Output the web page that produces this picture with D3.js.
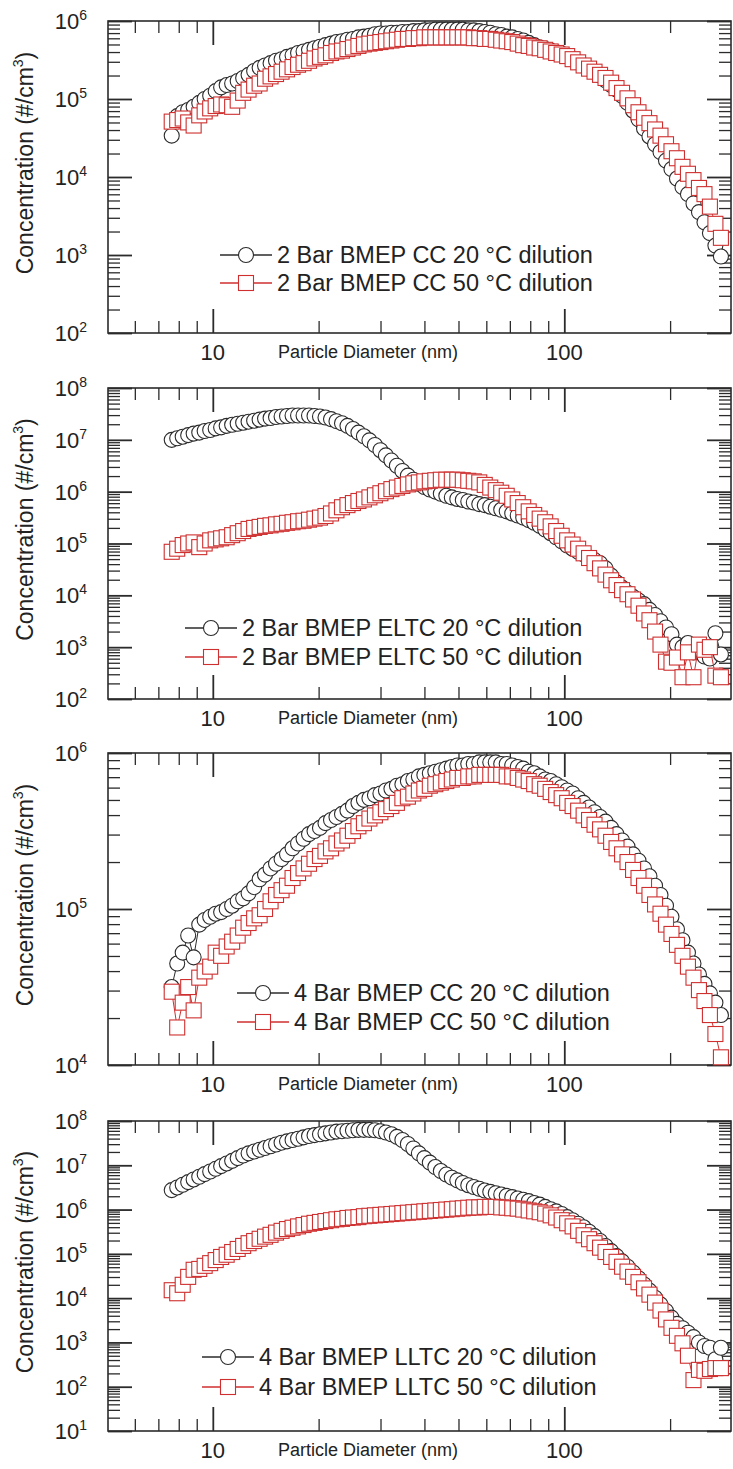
<!DOCTYPE html>
<html>
<head>
<meta charset="utf-8">
<script src="https://cdnjs.cloudflare.com/ajax/libs/d3/7.8.5/d3.min.js"></script>
<style>
body{margin:0;background:#fff;}
svg text{font-family:Arial,"Liberation Sans",sans-serif;fill:#222;}
</style>
</head>
<body>
<script>
var WIDTH = 733, HEIGHT = 1469;

// particle diameter (nm), SMPS channels
var diameters = [7.64,7.92,8.21,8.51,8.82,9.15,9.48,9.83,10.19,10.56,
10.95,11.35,11.77,12.20,12.64,13.11,13.59,14.08,14.60,15.13,
15.69,16.26,16.86,17.48,18.12,18.78,19.47,20.18,20.92,21.69,
22.48,23.31,24.16,25.04,25.96,26.91,27.90,28.92,29.98,31.08,
32.22,33.40,34.62,35.89,37.20,38.57,39.98,41.44,42.96,44.54,
46.17,47.86,49.61,51.43,53.31,55.27,57.29,59.39,61.57,63.82,
66.16,68.58,71.10,73.70,76.40,79.20,82.10,85.11,88.23,91.46,
94.81,98.29,101.9,105.6,109.5,113.5,117.6,121.9,126.4,131.0,
135.9,140.8,146.0,151.3,156.9,162.6,168.6,174.7,181.2,187.8,
194.7,201.8,209.2,216.9,224.8,233.1,241.6,250.5,259.6,269.1,
279.0];

// concentration (#/cm3)
var cc2bar20 = [3.39e4,6.03e4,6.76e4,7.24e4,7.94e4,8.91e4,1.00e5,1.10e5,1.26e5,1.41e5,
1.51e5,1.58e5,1.70e5,1.86e5,2.04e5,2.29e5,2.51e5,2.69e5,2.88e5,3.09e5,
3.24e5,3.47e5,3.63e5,3.89e5,4.07e5,4.27e5,4.47e5,4.68e5,4.90e5,5.13e5,
5.37e5,5.50e5,5.75e5,5.89e5,6.17e5,6.31e5,6.46e5,6.76e5,6.92e5,6.92e5,
7.08e5,7.08e5,7.24e5,7.24e5,7.41e5,7.41e5,7.59e5,7.59e5,7.76e5,7.76e5,
7.76e5,7.76e5,7.76e5,7.76e5,7.59e5,7.59e5,7.41e5,7.24e5,7.08e5,6.76e5,
6.61e5,6.31e5,6.17e5,5.89e5,5.62e5,5.25e5,4.90e5,4.57e5,4.37e5,4.17e5,
3.98e5,3.80e5,3.55e5,3.24e5,2.95e5,2.69e5,2.45e5,2.24e5,2.00e5,1.74e5,
1.51e5,1.32e5,1.10e5,8.91e4,7.08e4,5.50e4,4.17e4,3.31e4,2.63e4,2.09e4,
1.62e4,1.26e4,9.55e3,7.41e3,6.03e3,4.57e3,3.55e3,2.63e3,1.91e3,1.32e3,
9.55e2];
var cc2bar50 = [5.13e4,5.37e4,5.62e4,5.01e4,4.57e4,6.17e4,6.92e4,7.59e4,8.13e4,8.51e4,
8.32e4,7.94e4,9.55e4,1.20e5,1.32e5,1.48e5,1.58e5,1.82e5,1.95e5,2.09e5,
2.24e5,2.40e5,2.57e5,2.75e5,2.88e5,3.09e5,3.31e5,3.47e5,3.63e5,3.89e5,
4.07e5,4.17e5,4.37e5,4.57e5,4.79e5,5.01e5,5.13e5,5.25e5,5.37e5,5.50e5,
5.62e5,5.75e5,5.89e5,5.89e5,6.03e5,6.03e5,6.17e5,6.17e5,6.17e5,6.17e5,
6.17e5,6.17e5,6.17e5,6.17e5,6.17e5,6.03e5,6.03e5,5.89e5,5.89e5,5.75e5,
5.62e5,5.50e5,5.37e5,5.13e5,4.90e5,4.79e5,4.57e5,4.47e5,4.27e5,4.07e5,
3.89e5,3.72e5,3.55e5,3.24e5,2.95e5,2.69e5,2.45e5,2.24e5,2.04e5,1.86e5,
1.62e5,1.38e5,1.20e5,1.02e5,8.32e4,6.76e4,5.75e4,4.90e4,4.07e4,3.39e4,
2.63e4,2.14e4,1.74e4,1.35e4,1.10e4,9.12e3,7.24e3,6.03e3,4.17e3,2.51e3,
1.66e3];
var eltc2bar20 = [1.00e7,1.07e7,1.15e7,1.23e7,1.32e7,1.38e7,1.48e7,1.55e7,1.66e7,1.74e7,
1.86e7,1.95e7,2.04e7,2.14e7,2.24e7,2.34e7,2.45e7,2.57e7,2.63e7,2.75e7,
2.82e7,2.88e7,2.95e7,2.95e7,2.95e7,2.95e7,2.88e7,2.82e7,2.69e7,2.51e7,
2.29e7,2.09e7,1.86e7,1.62e7,1.38e7,1.17e7,9.77e6,7.94e6,6.31e6,5.01e6,
3.98e6,3.16e6,2.51e6,2.04e6,1.70e6,1.41e6,1.23e6,1.10e6,1.00e6,9.12e5,
8.32e5,7.76e5,7.24e5,6.92e5,6.46e5,6.17e5,5.75e5,5.50e5,5.13e5,4.79e5,
4.47e5,4.17e5,3.80e5,3.47e5,3.16e5,2.82e5,2.51e5,2.19e5,1.86e5,1.58e5,
1.32e5,1.10e5,9.12e4,7.94e4,6.92e4,6.17e4,5.37e4,4.79e4,4.17e4,3.31e4,
2.40e4,1.78e4,1.41e4,1.12e4,9.33e3,7.94e3,6.76e3,5.25e3,4.17e3,3.16e3,
2.40e3,1.78e3,1.12e3,1.00e3,1.20e3,7.94e2,8.91e2,6.61e2,6.03e2,1.86e3,
7.24e2];
var eltc2bar50 = [6.92e4,7.94e4,9.33e4,1.00e5,1.05e5,8.51e4,1.00e5,1.15e5,1.20e5,1.26e5,
1.32e5,1.45e5,1.58e5,1.74e5,1.91e5,2.00e5,2.09e5,2.19e5,2.24e5,2.34e5,
2.40e5,2.51e5,2.57e5,2.69e5,2.75e5,2.88e5,3.02e5,3.16e5,3.39e5,3.80e5,
4.37e5,5.01e5,5.50e5,6.03e5,6.61e5,7.08e5,7.76e5,8.51e5,9.33e5,1.02e6,
1.12e6,1.20e6,1.29e6,1.38e6,1.45e6,1.51e6,1.58e6,1.62e6,1.66e6,1.70e6,
1.70e6,1.70e6,1.70e6,1.66e6,1.62e6,1.58e6,1.51e6,1.35e6,1.20e6,1.07e6,
9.55e5,8.32e5,7.08e5,6.03e5,5.01e5,4.17e5,3.55e5,3.02e5,2.57e5,2.14e5,
1.74e5,1.41e5,1.15e5,9.55e4,7.94e4,6.46e4,5.25e4,4.17e4,3.31e4,2.51e4,
1.95e4,1.58e4,1.26e4,1.05e4,8.32e3,6.31e3,4.47e3,3.31e3,2.00e3,1.12e3,
5.25e2,5.01e2,6.31e2,2.63e2,7.94e2,2.63e2,1.12e3,8.91e2,1.00e3,2.82e2,
2.63e2];
var cc4bar20 = [3.16e4,4.47e4,5.25e4,6.76e4,4.90e4,7.94e4,8.51e4,8.91e4,9.33e4,9.55e4,
1.00e5,1.05e5,1.12e5,1.17e5,1.26e5,1.38e5,1.55e5,1.66e5,1.82e5,1.95e5,
2.09e5,2.24e5,2.45e5,2.63e5,2.82e5,3.02e5,3.16e5,3.31e5,3.55e5,3.72e5,
3.89e5,4.07e5,4.27e5,4.57e5,4.79e5,5.01e5,5.13e5,5.37e5,5.50e5,5.75e5,
5.89e5,6.17e5,6.31e5,6.61e5,6.76e5,7.08e5,7.24e5,7.41e5,7.59e5,7.76e5,
7.94e5,8.13e5,8.32e5,8.32e5,8.51e5,8.51e5,8.71e5,8.71e5,8.71e5,8.71e5,
8.51e5,8.51e5,8.32e5,8.13e5,7.94e5,7.59e5,7.41e5,7.08e5,6.76e5,6.61e5,
6.31e5,6.03e5,5.75e5,5.50e5,5.13e5,4.79e5,4.47e5,4.17e5,3.89e5,3.63e5,
3.31e5,3.02e5,2.75e5,2.51e5,2.24e5,2.04e5,1.82e5,1.62e5,1.41e5,1.23e5,
1.05e5,8.91e4,7.41e4,6.31e4,5.25e4,4.47e4,3.80e4,3.31e4,2.88e4,2.51e4,
2.09e4];
var cc4bar50 = [2.95e4,1.74e4,2.51e4,3.16e4,2.24e4,3.63e4,3.98e4,4.27e4,5.25e4,5.01e4,
5.75e4,6.17e4,6.76e4,7.59e4,8.13e4,8.71e4,9.12e4,1.00e5,1.12e5,1.23e5,
1.32e5,1.41e5,1.58e5,1.70e5,1.82e5,1.95e5,2.09e5,2.19e5,2.34e5,2.45e5,
2.63e5,2.75e5,2.95e5,3.16e5,3.39e5,3.55e5,3.80e5,3.98e5,4.17e5,4.37e5,
4.57e5,4.79e5,5.13e5,5.25e5,5.50e5,5.75e5,5.89e5,6.17e5,6.31e5,6.46e5,
6.61e5,6.76e5,6.92e5,6.92e5,7.08e5,7.08e5,7.24e5,7.24e5,7.24e5,7.24e5,
7.24e5,7.08e5,7.08e5,6.92e5,6.76e5,6.61e5,6.31e5,6.17e5,5.89e5,5.62e5,
5.37e5,5.13e5,4.79e5,4.57e5,4.27e5,3.98e5,3.72e5,3.47e5,3.24e5,2.95e5,
2.69e5,2.45e5,2.24e5,2.00e5,1.78e5,1.58e5,1.41e5,1.23e5,1.07e5,9.33e4,
7.94e4,6.92e4,5.89e4,5.01e4,4.27e4,3.63e4,3.02e4,2.57e4,2.09e4,1.58e4,
1.12e4];
var lltc4bar20 = [2.75e6,3.16e6,3.63e6,4.17e6,4.79e6,5.50e6,6.31e6,7.24e6,8.32e6,9.55e6,
1.10e7,1.26e7,1.45e7,1.66e7,1.86e7,2.04e7,2.24e7,2.45e7,2.69e7,2.95e7,
3.24e7,3.47e7,3.72e7,3.98e7,4.27e7,4.57e7,4.79e7,5.01e7,5.25e7,5.50e7,
5.75e7,5.89e7,6.03e7,6.17e7,6.31e7,6.31e7,6.31e7,6.17e7,5.89e7,5.50e7,
5.01e7,4.37e7,3.72e7,3.02e7,2.40e7,1.86e7,1.45e7,1.15e7,9.12e6,7.41e6,
6.17e6,5.25e6,4.57e6,3.98e6,3.55e6,3.24e6,2.95e6,2.69e6,2.51e6,2.34e6,
2.19e6,2.04e6,1.91e6,1.78e6,1.66e6,1.55e6,1.41e6,1.29e6,1.15e6,1.02e6,
9.12e5,7.94e5,6.76e5,5.75e5,4.79e5,3.98e5,3.16e5,2.51e5,1.95e5,1.51e5,
1.15e5,8.91e4,6.76e4,5.13e4,3.80e4,2.82e4,2.04e4,1.48e4,1.02e4,7.24e3,
5.13e3,3.63e3,2.63e3,2.09e3,1.66e3,1.32e3,1.00e3,8.32e2,7.59e2,4.17e2,
7.59e2];
var lltc4bar50 = [1.51e4,1.29e4,2.00e4,3.02e4,4.37e4,4.57e4,5.37e4,6.17e4,7.24e4,8.51e4,
9.55e4,1.10e5,1.29e5,1.51e5,1.74e5,1.95e5,2.19e5,2.45e5,2.69e5,3.02e5,
3.31e5,3.63e5,3.89e5,4.17e5,4.47e5,4.79e5,5.01e5,5.25e5,5.50e5,5.75e5,
6.03e5,6.17e5,6.46e5,6.61e5,6.76e5,7.08e5,7.24e5,7.41e5,7.59e5,7.76e5,
7.94e5,8.13e5,8.32e5,8.51e5,8.71e5,8.91e5,9.12e5,9.33e5,9.55e5,9.77e5,
1.00e6,1.02e6,1.05e6,1.07e6,1.10e6,1.12e6,1.12e6,1.15e6,1.15e6,1.15e6,
1.12e6,1.10e6,1.07e6,1.05e6,1.00e6,9.55e5,9.12e5,8.71e5,8.13e5,7.41e5,
6.61e5,5.75e5,4.90e5,4.17e5,3.31e5,2.63e5,2.14e5,1.74e5,1.38e5,1.10e5,
8.51e4,6.61e4,5.13e4,3.98e4,3.02e4,2.29e4,1.66e4,1.20e4,7.94e3,5.25e3,
3.31e3,2.14e3,1.41e3,9.55e2,5.01e2,1.41e2,2.40e2,2.29e2,2.51e2,2.63e2,
2.63e2];

// axis ranges (powers of ten) and tick labels
var yExp1 = [2, 6], yExp2 = [2, 8], yExp3 = [4, 6], yExp4 = [1, 8];
var xMajor = [10, 100];
var xMinor = [6, 7, 8, 9, 20, 30, 40, 50, 60, 70, 80, 90, 200];
var xTickLabels = ["10", "100"];
var xTitle = "Particle Diameter (nm)";

var legend1 = ["2 Bar BMEP CC 20 \u00B0C dilution", "2 Bar BMEP CC 50 \u00B0C dilution"];
var legend2 = ["2 Bar BMEP ELTC 20 \u00B0C dilution", "2 Bar BMEP ELTC 50 \u00B0C dilution"];
var legend3 = ["4 Bar BMEP CC 20 \u00B0C dilution", "4 Bar BMEP CC 50 \u00B0C dilution"];
var legend4 = ["4 Bar BMEP LLTC 20 \u00B0C dilution", "4 Bar BMEP LLTC 50 \u00B0C dilution"];

var BLACK = "#2b2b2b", RED = "#cf2f2f";

var panels = [
	{top: 21, bottom: 333, exp: yExp1, a: cc2bar20, b: cc2bar50, names: legend1, legX: 220, legY: [255, 283]},
	{top: 388, bottom: 699, exp: yExp2, a: eltc2bar20, b: eltc2bar50, names: legend2, legX: 185, legY: [628, 657]},
	{top: 753, bottom: 1065, exp: yExp3, a: cc4bar20, b: cc4bar50, names: legend3, legX: 237, legY: [993, 1022]},
	{top: 1121, bottom: 1431, exp: yExp4, a: lltc4bar20, b: lltc4bar50, names: legend4, legX: 202, legY: [1357, 1387]}
];

var LEFT = 108, RIGHT = 731;

var _svg = d3.select("body").append("svg")
	.attr("width", WIDTH)
	.attr("height", HEIGHT);

var _xScale = d3.scaleLog().domain([5, 300]).range([107, 732]);

var drawMarker = function(sel, kind, color){
	if (kind == "circle") {
		sel.append("circle").attr("r", 7.5)
			.attr("fill", "#fff").attr("stroke", color).attr("stroke-width", 1.1);
	} else {
		sel.append("rect").attr("x", -7.5).attr("y", -7.5)
			.attr("width", 15).attr("height", 15)
			.attr("fill", "#fff").attr("stroke", color).attr("stroke-width", 1.1);
	}
};

var drawPanel = function(p){
	var g = _svg.append("g");
	var y = d3.scaleLog()
		.domain([Math.pow(10, p.exp[0]), Math.pow(10, p.exp[1])])
		.range([p.bottom, p.top]);

	var yMajor = y.ticks().filter(function(d){ return Math.abs(Math.log10(d) - Math.round(Math.log10(d))) < 1e-9; });
	var yMinor = y.ticks().filter(function(d){ return yMajor.indexOf(d) < 0; });

	// ticks, all pointing inward
	var tick = function(axis, scale, vals, len, tx, ty, w){
		var a = g.append("g")
			.attr("transform", "translate(" + tx + "," + ty + ")")
			.call(axis(scale).tickValues(vals).tickSize(-len).tickSizeOuter(0).tickFormat(""));
		a.select(".domain").remove();
		a.selectAll("line").attr("stroke", BLACK).attr("stroke-width", w);
	};
	tick(d3.axisBottom, _xScale, xMinor, 12, 0, p.bottom, 1.3);
	tick(d3.axisBottom, _xScale, xMajor, 24, 0, p.bottom, 1.8);
	tick(d3.axisTop, _xScale, xMinor, 12, 0, p.top, 1.3);
	tick(d3.axisTop, _xScale, xMajor, 24, 0, p.top, 1.8);
	tick(d3.axisLeft, y, yMinor, 12, LEFT, 0, 1.3);
	tick(d3.axisLeft, y, yMajor, 24, LEFT, 0, 1.8);
	tick(d3.axisRight, y, yMinor, 12, RIGHT, 0, 1.3);
	tick(d3.axisRight, y, yMajor, 24, RIGHT, 0, 1.8);

	g.append("rect")
		.attr("x", LEFT).attr("y", p.top)
		.attr("width", RIGHT - LEFT).attr("height", p.bottom - p.top)
		.attr("fill", "none").attr("stroke", BLACK).attr("stroke-width", 1.6);

	// y tick labels 10^n
	var lab = g.selectAll(".ylab").data(yMajor).enter()
		.append("text").classed("ylab", true)
		.attr("x", 87)
		.attr("y", function(d){ return y(d) + 8; })
		.attr("text-anchor", "end")
		.style("font-size", "22px");
	lab.append("tspan").text("10");
	lab.append("tspan").attr("dy", -9).style("font-size", "14px")
		.text(function(d){ return Math.round(Math.log10(d)); });

	// x tick labels
	g.selectAll(".xlab").data(xMajor).enter()
		.append("text").classed("xlab", true)
		.attr("x", function(d){ return _xScale(d); })
		.attr("y", p.bottom + 27)
		.attr("text-anchor", "middle")
		.style("font-size", "22px")
		.text(function(d, i){ return xTickLabels[i]; });

	g.append("text")
		.attr("x", 368).attr("y", p.bottom + 25)
		.attr("text-anchor", "middle")
		.style("font-size", "18px")
		.text(xTitle);

	var yt = g.append("text")
		.attr("transform", "translate(33," + ((p.top + p.bottom) / 2 - 14) + ") rotate(-90)")
		.attr("text-anchor", "middle")
		.style("font-size", "23px");
	yt.append("tspan").text("Concentration (#/cm");
	yt.append("tspan").attr("dy", -10).style("font-size", "14px").text("3");
	yt.append("tspan").attr("dy", 10).text(")");

	// series: line under markers
	var line = d3.line()
		.x(function(d, i){ return _xScale(diameters[i]); })
		.y(function(d){ return y(d); });

	var series = [{v: p.a, color: BLACK, kind: "circle"}, {v: p.b, color: RED, kind: "square"}];
	series.forEach(function(s){
		g.append("path").attr("d", line(s.v))
			.attr("fill", "none").attr("stroke", s.color).attr("stroke-width", 1);
		g.selectAll(".pt-" + s.kind).data(s.v).enter()
			.append("g").attr("class", "pt-" + s.kind)
			.attr("transform", function(d, i){ return "translate(" + _xScale(diameters[i]) + "," + y(d) + ")"; })
			.each(function(){ drawMarker(d3.select(this), s.kind, s.color); });
	});

	// legend
	series.forEach(function(s, i){
		var ly = p.legY[i];
		var lg = g.append("g").attr("transform", "translate(" + p.legX + "," + ly + ")");
		lg.append("line").attr("x1", 0).attr("x2", 52)
			.attr("stroke", s.color).attr("stroke-width", 1.5);
		var m = lg.append("g").attr("transform", "translate(26,0)");
		drawMarker(m, s.kind, s.color);
		lg.append("text").attr("x", 57).attr("y", 8)
			.style("font-size", "23.5px")
			.text(p.names[i]);
	});
};

panels.forEach(drawPanel);
</script>
</body>
</html>
